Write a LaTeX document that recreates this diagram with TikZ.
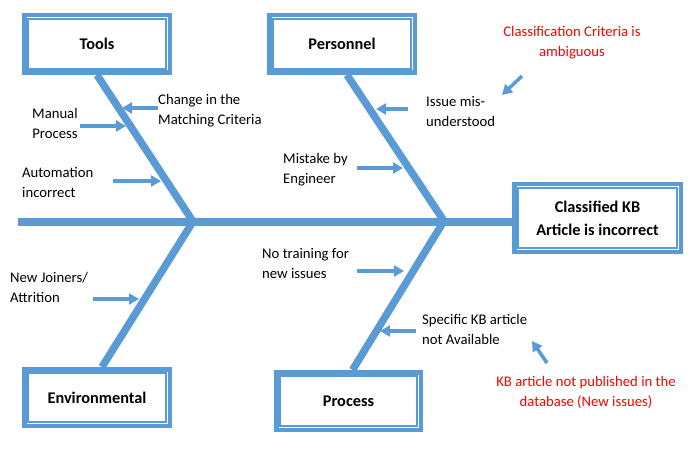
\documentclass[tikz,border=0pt]{standalone}
\usepackage{fontspec}
\setmainfont{Carlito}
\usetikzlibrary{arrows.meta,backgrounds}
\definecolor{fbblue}{HTML}{5B9BD5}
\definecolor{fbred}{HTML}{FF0000}
\begin{document}
\begin{tikzpicture}[x=1pt,y=-1pt,
  box/.style={draw=fbblue, line width=4.5pt, fill=white, inner sep=0pt,
    minimum width=145.5pt, minimum height=57.5pt,
    font=\bfseries\fontsize{16.3}{23}\selectfont, align=center},
  inframe/.style={draw=fbblue, line width=1.4pt},
  bone/.style={draw=fbblue, line width=7.5pt},
  cause/.style={draw=fbblue, line width=3.5pt, -{Triangle[length=10pt,width=11pt]}},
  lbl/.style={font=\fontsize{14.7}{20}\selectfont, inner sep=0pt, align=left, anchor=west},
  note/.style={font=\fontsize{14.7}{20}\selectfont, text=fbred, inner sep=0pt, align=center}]
\useasboundingbox (0,0) rectangle (698,454);

% category boxes
\node[box] (tools) at (97,44) {Tools};
\node[box] (pers) at (342,44) {Personnel};
\node[box, minimum width=166.5pt, minimum height=67.5pt] (kb) at (597.5,218) {Classified KB\\Article is incorrect};
\node[box, minimum height=56.5pt] (env) at (97,397.5) {Environmental};
\node[box, minimum width=144.5pt] (proc) at (348.5,401) {Process};

% inner frames
\foreach \bx in {tools,pers,kb,env,proc}{
  \draw[inframe] ([xshift=5.9pt,yshift=-5.9pt]\bx.north west) rectangle ([xshift=-5.9pt,yshift=5.9pt]\bx.south east);
}

% spine and bones
\coordinate (spinestart) at (18,222);
\coordinate (j1) at (193,221.5);
\coordinate (j2) at (444,221);
\begin{scope}[on background layer]
  \fill[white] (0,0) rectangle (698,454);
  \draw[bone, line width=8.5pt] (spinestart) -- (spinestart -| kb.west);
  \draw[bone] (tools.south) -- (j1);
  \draw[bone] ([xshift=5pt]pers.south) -- (j2);
  \draw[bone] (j1) -- ([xshift=5pt]env.north);
  \draw[bone] (j2) -- ([xshift=4pt]proc.north);
\end{scope}

% labels
\node[lbl] (chg) at (158,111) {Change in the\\Matching Criteria};
\node[lbl, align=center] (man) at (32,123) {Manual\\Process};
\node[lbl] (auto) at (22,182) {Automation\\incorrect};
\node[lbl] (mist) at (283,170) {Mistake by\\Engineer};
\node[lbl] (iss) at (426,111) {Issue mis-\\understood};
\node[note] (amb) at (572,43) {Classification Criteria is\\ambiguous};
\node[lbl] (nj) at (10,287) {New Joiners/\\Attrition};
\node[lbl] (nt) at (262,263.5) {No training for\\new issues};
\node[lbl] (spec) at (422,329.5) {Specific KB article\\not Available};
\node[note] (pub) at (586,392.5) {KB article not published in the\\database (New issues)};

% cause arrows
\coordinate (a1s) at (158,108); \coordinate (a1e) at (122,108);
\coordinate (a2s) at (80,126);  \coordinate (a2e) at (126,126);
\coordinate (a3s) at (113,181); \coordinate (a3e) at (161,181);
\coordinate (a4s) at (357,168); \coordinate (a4e) at (403,168);
\coordinate (a5s) at (408,109); \coordinate (a5e) at (376,109);
\coordinate (a6s) at (522,76);  \coordinate (a6e) at (502,95);
\coordinate (a7s) at (93,299);  \coordinate (a7e) at (139,299);
\coordinate (a8s) at (357,271); \coordinate (a8e) at (404,271);
\coordinate (a9s) at (416,331); \coordinate (a9e) at (380,331);
\coordinate (a10s) at (547,363); \coordinate (a10e) at (532,341);
\foreach \i in {1,...,10}{
  \draw[cause] (a\i s) -- (a\i e);
}
\end{tikzpicture}
\end{document}
